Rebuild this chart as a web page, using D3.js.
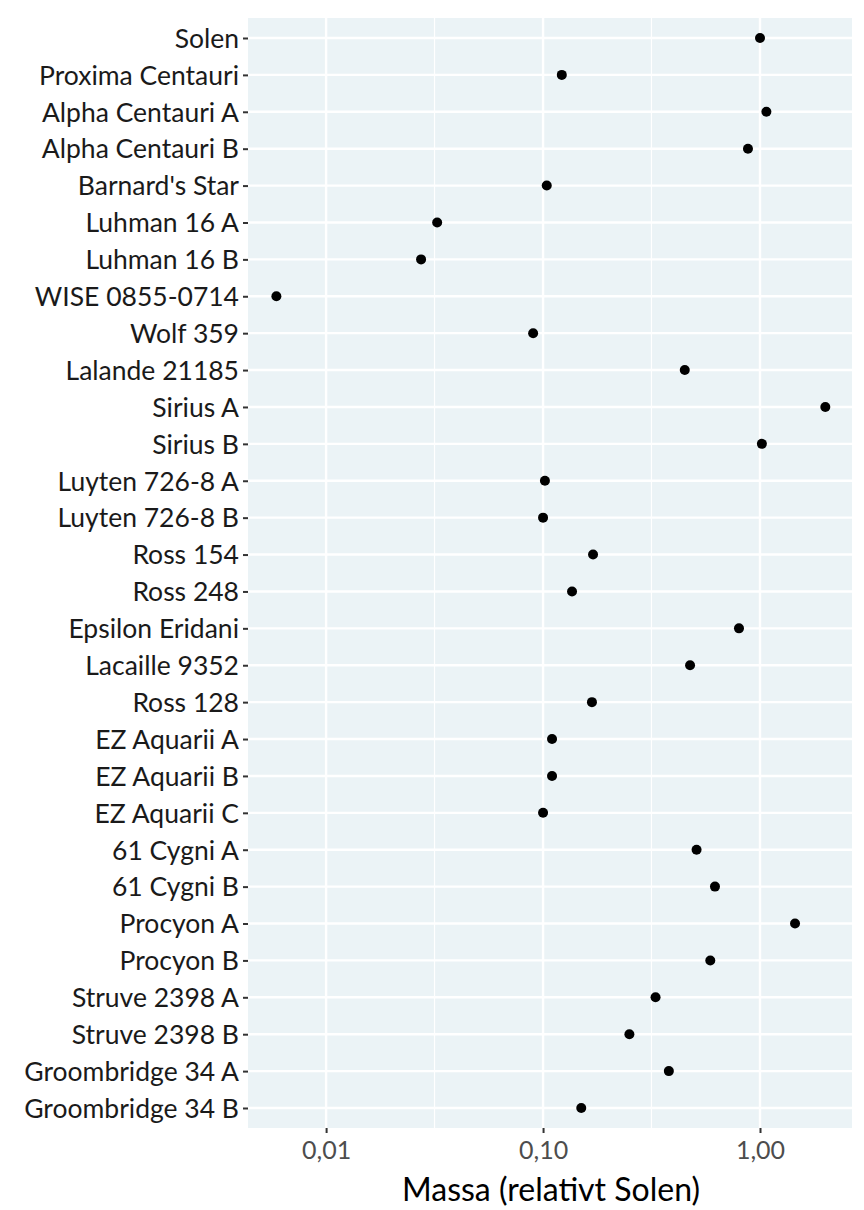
<!DOCTYPE html>
<html><head><meta charset="utf-8">
<script src="https://cdn.jsdelivr.net/npm/d3@7"></script>
<style>body{margin:0;background:#fff}</style></head>
<body><svg id="c" width="864" height="1210"></svg>
<script>
const stars = ["Solen","Proxima Centauri","Alpha Centauri A","Alpha Centauri B","Barnard's Star","Luhman 16 A","Luhman 16 B","WISE 0855-0714","Wolf 359","Lalande 21185","Sirius A","Sirius B","Luyten 726-8 A","Luyten 726-8 B","Ross 154","Ross 248","Epsilon Eridani","Lacaille 9352","Ross 128","EZ Aquarii A","EZ Aquarii B","EZ Aquarii C","61 Cygni A","61 Cygni B","Procyon A","Procyon B","Struve 2398 A","Struve 2398 B","Groombridge 34 A","Groombridge 34 B"];
const masses = [1.0,0.122,1.07,0.88,0.104,0.0325,0.0274,0.0059,0.090,0.45,2.0,1.02,0.102,0.100,0.17,0.136,0.80,0.476,0.168,0.11,0.11,0.10,0.51,0.62,1.45,0.59,0.33,0.25,0.38,0.15];
const majorTicks = [0.01,0.1,1];
const tickLabels = ["0,01","0,10","1,00"];
const minorTicks = [0.0316,0.316];

const svg = d3.select("#c");
const L=248,R=852,T=18,B=1128;
const x = d3.scaleLog().domain([Math.pow(10,-2.36),Math.pow(10,0.424)]).range([L,R]);
const y = d3.scalePoint().domain(stars).range([38,1108]);
const font="Lato, 'Open Sans', sans-serif";
svg.append("rect").attr("x",L).attr("y",T).attr("width",R-L).attr("height",B-T).attr("fill","#EBF3F6");
svg.selectAll(".mn").data(minorTicks).join("line").attr("x1",d=>x(d)).attr("x2",d=>x(d)).attr("y1",T).attr("y2",B).attr("stroke","#fff").attr("stroke-width",1.2);
svg.selectAll(".mj").data(majorTicks).join("line").attr("x1",d=>x(d)).attr("x2",d=>x(d)).attr("y1",T).attr("y2",B).attr("stroke","#fff").attr("stroke-width",2.4);
svg.selectAll(".hg").data(stars).join("line").attr("x1",L).attr("x2",R).attr("y1",d=>y(d)).attr("y2",d=>y(d)).attr("stroke","#fff").attr("stroke-width",2.4);
const ya = svg.append("g").attr("transform",`translate(${L},0)`).call(d3.axisLeft(y).tickSize(5).tickPadding(4));
ya.select(".domain").remove();
ya.selectAll("line").attr("stroke","#333").attr("stroke-width",2);
ya.selectAll("text").attr("font-family",font).attr("font-size",26.5).attr("fill","#1a1a1a").attr("dy","0.35em");
const xa = svg.append("g").attr("transform",`translate(0,${B})`).call(d3.axisBottom(x).tickValues(majorTicks).tickFormat((d,i)=>tickLabels[i]).tickSize(5).tickPadding(8));
xa.select(".domain").remove();
xa.selectAll("line").attr("stroke","#333").attr("stroke-width",2);
xa.selectAll("text").attr("font-family",font).attr("font-size",25).attr("fill","#4d4d4d");
svg.append("text").attr("x",551).attr("y",1201).attr("text-anchor","middle").attr("font-family",font).attr("font-size",32).attr("fill","#000").text("Massa (relativt Solen)");
svg.selectAll(".pt").data(stars).join("circle").attr("cx",(d,i)=>x(masses[i])).attr("cy",d=>y(d)).attr("r",5).attr("fill","#000");
</script></body></html>
